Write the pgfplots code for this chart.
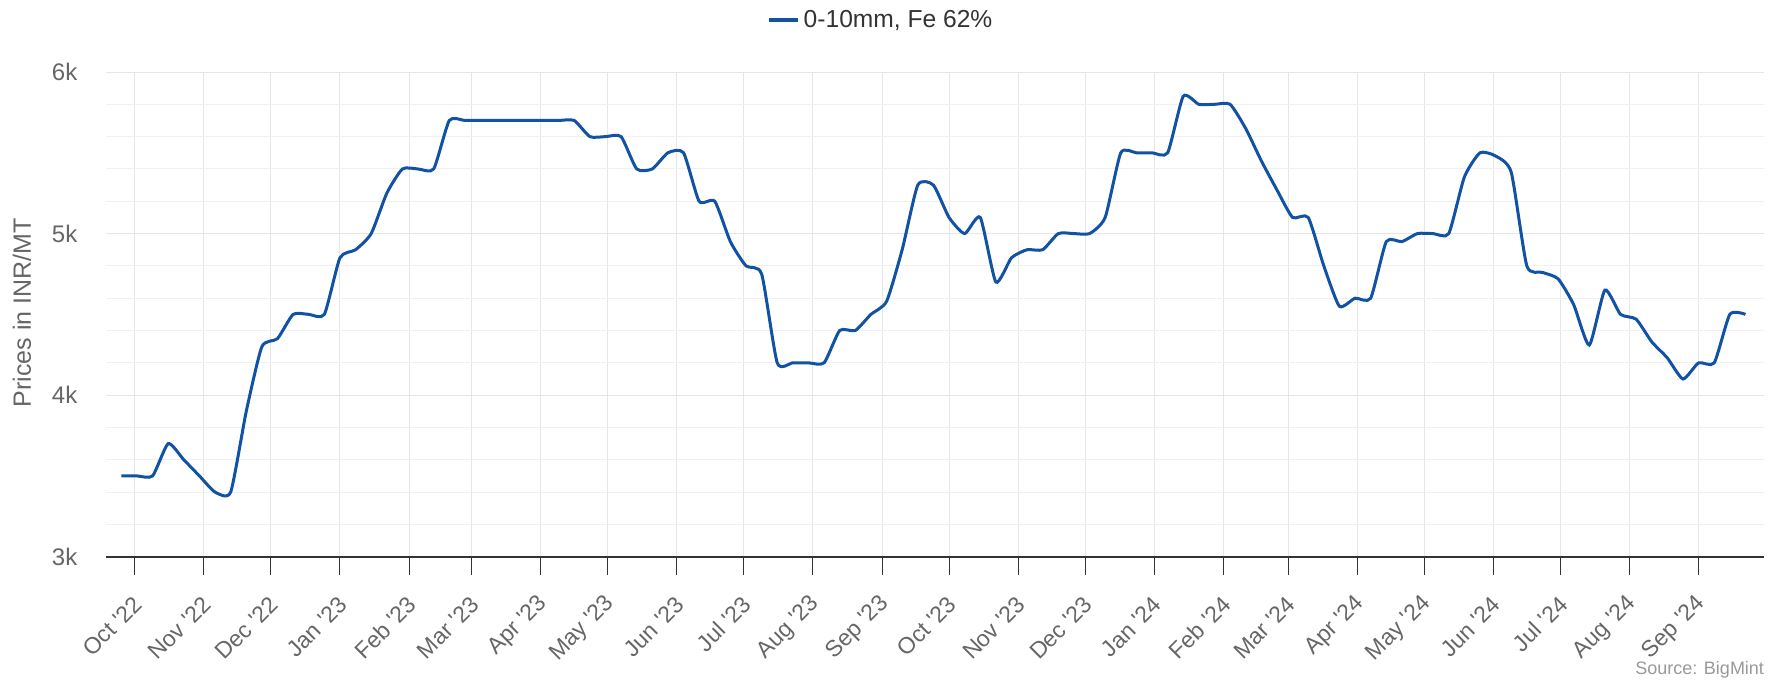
\documentclass[border=0pt]{standalone}
\usepackage{fontspec}
\setmainfont{Liberation Sans}
\usepackage{pgfplots}
\pgfplotsset{compat=1.18}
\definecolor{lineblue}{RGB}{17,82,164}
\definecolor{gridmaj}{RGB}{230,230,230}
\definecolor{gridmin}{RGB}{240,240,240}
\definecolor{axisline}{RGB}{51,51,51}
\definecolor{labgray}{RGB}{102,102,102}
\definecolor{legtext}{RGB}{51,51,51}
\definecolor{srcgray}{RGB}{153,153,153}
\newcommand{\q}{\textquotesingle}
\begin{document}
\begin{tikzpicture}
\path[use as bounding box] (-53.2pt,-62.15pt) rectangle (837.3pt,278.35pt);
\begin{axis}[
  width=829pt, height=242.35pt, scale only axis,
  at={(0pt,0pt)}, anchor=south west,
  xmin=-12.7, xmax=730.5, ymin=3000, ymax=6000,
  axis x line*=bottom, axis y line*=left,
  x axis line style={draw=axisline, line width=0.8pt, -},
  y axis line style={draw=none},
  xtick={0,31,61,92,123,151,182,212,243,273,304,335,365,396,426,457,488,517,548,578,609,639,670,701},
  xticklabels={Oct \q22,Nov \q22,Dec \q22,Jan \q23,Feb \q23,Mar \q23,Apr \q23,May \q23,Jun \q23,Jul \q23,Aug \q23,Sep \q23,Oct \q23,Nov \q23,Dec \q23,Jan \q24,Feb \q24,Mar \q24,Apr \q24,May \q24,Jun \q24,Jul \q24,Aug \q24,Sep \q24},
  ytick={3000,4000,5000,6000},
  yticklabels={3k,4k,5k,6k},
  minor ytick={3200,3400,3600,3800,4200,4400,4600,4800,5200,5400,5600,5800},
  xtick align=outside,
  x tick style={draw=axisline, line width=0.5pt},
  y tick style={draw=none},
  major tick length=9pt,
  xmajorgrids, ymajorgrids, yminorgrids,
  major grid style={draw=gridmaj, line width=0.5pt},
  minor grid style={draw=gridmin, line width=0.5pt},
  xticklabel style={font=\fontsize{11.5}{13}\selectfont, text=labgray, yshift=-10.5pt, xshift=4pt, rotate=45, anchor=east},
  yticklabel style={font=\fontsize{12}{14}\selectfont, text=labgray, xshift=-11pt},
  legend style={at={(axis description cs:0.4677,1.107)}, anchor=center, draw=none, fill=none,
    font=\fontsize{12.3}{14}\selectfont, text=legtext},
  legend image code/.code={\draw[line width=2pt, lineblue] (0pt,0pt) -- (14.2pt,0pt);},
  clip=false,
]
\addplot[lineblue, line width=1.5pt, smooth, tension=0.35] coordinates {
(-6,3500) (1,3500) (8,3500) (15,3700) (22,3600) (29,3500) (36,3400) (43,3400)
(50,3900) (57,4300) (64,4350) (71,4500) (78,4500) (85,4500) (92,4850) (99,4900)
(106,5000) (113,5250) (120,5400) (127,5400) (134,5400) (141,5700) (148,5700) (155,5700)
(162,5700) (169,5700) (176,5700) (183,5700) (190,5700) (197,5700) (204,5600) (211,5600)
(218,5600) (225,5400) (232,5400) (239,5500) (246,5500) (253,5200) (260,5200) (267,4950)
(274,4800) (281,4750) (288,4200) (295,4200) (302,4200) (309,4200) (316,4400) (323,4400)
(330,4500) (337,4580) (344,4900) (351,5300) (358,5300) (365,5100) (372,5000) (379,5100)
(386,4700) (393,4850) (400,4900) (407,4900) (414,5000) (421,5000) (428,5000) (435,5100)
(442,5500) (449,5500) (456,5500) (463,5500) (470,5850) (477,5800) (484,5800) (491,5800)
(498,5650) (505,5450) (512,5270) (519,5100) (526,5100) (533,4800) (540,4550) (547,4600)
(554,4600) (561,4950) (568,4950) (575,5000) (582,5000) (589,5000) (596,5350) (603,5500)
(610,5480) (617,5380) (624,4800) (631,4760) (638,4720) (645,4560) (652,4310) (659,4650)
(666,4500) (673,4470) (680,4330) (687,4230) (694,4100) (701,4200) (708,4200) (715,4500)
(722,4500)
};
\addlegendentry{0-10mm, Fe 62\%}
\end{axis}
\node[rotate=90, font=\fontsize{12.5}{14}\selectfont, text=labgray] at (-42.2pt,122pt) {Prices in INR/MT};
\node[anchor=east, font=\fontsize{9}{11}\selectfont, text=srcgray, inner sep=0pt] at (829pt,-56.65pt) {Source: BigMint};
\end{tikzpicture}
\end{document}
